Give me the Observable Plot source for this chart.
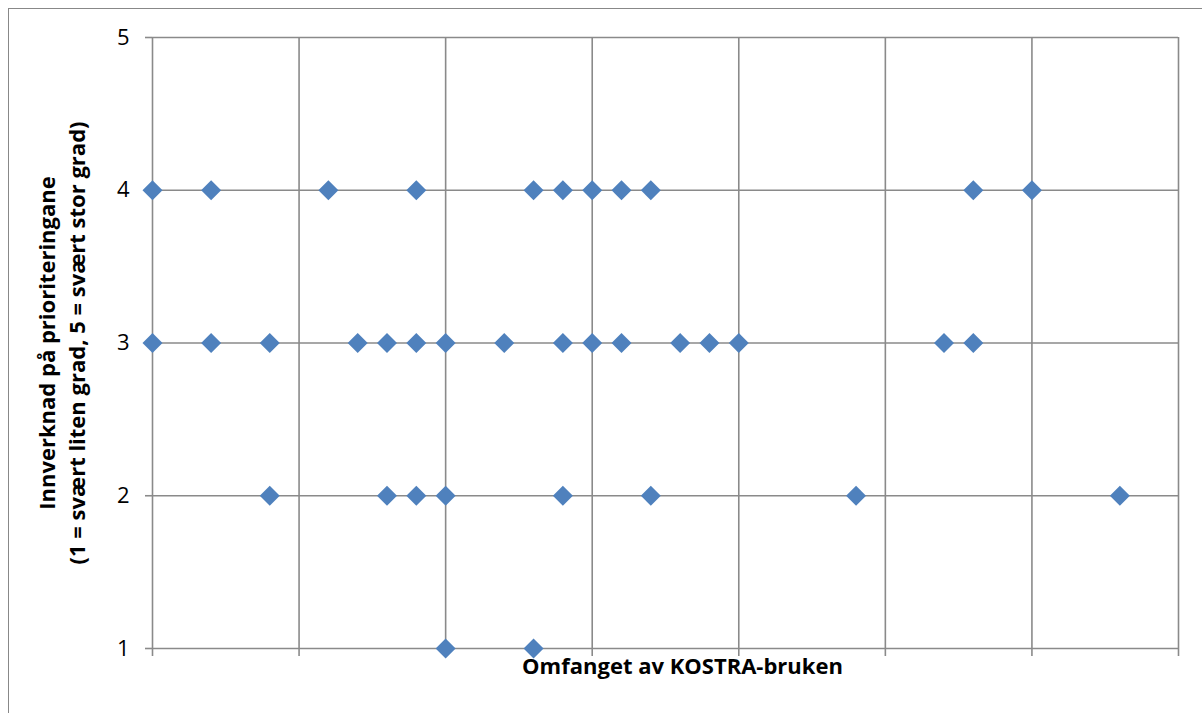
<!DOCTYPE html>
<html>
<head>
<meta charset="utf-8">
<script src="https://cdn.jsdelivr.net/npm/d3@7"></script>
<script src="https://cdn.jsdelivr.net/npm/@observablehq/plot@0.6"></script>
<style>
  html, body { margin: 0; padding: 0; background: #fff; }
  #wrap { position: relative; width: 1202px; height: 713px; overflow: hidden; }
  #border { position: absolute; left: 8px; top: 8px; width: 1300px; height: 800px; border: 1.5px solid #888; box-sizing: border-box; pointer-events: none; }
</style>
</head>
<body>
<div id="wrap"><div id="border"></div><div id="chart"></div></div>
<script>
// Points: x = omfang (0..35), y = innverknad (1..5)
const xs4 = [0, 2, 6, 9, 13, 14, 15, 16, 17, 28, 30];
const xs3 = [0, 2, 4, 7, 8, 9, 10, 12, 14, 15, 16, 18, 19, 20, 27, 28];
const xs2 = [4, 8, 9, 10, 14, 17, 24, 33];
const xs1 = [10, 13];
const xTicks = [0, 5, 10, 15, 20, 25, 30, 35];
const yTicks = [1, 2, 3, 4, 5];
const xTitle = "Omfanget av KOSTRA-bruken";
const yTitle = "Innverknad på prioriteringane\n(1 = svært liten grad, 5 = svært stor grad)";

const data = [
  ...xs4.map(x => ({x, y: 4})),
  ...xs3.map(x => ({x, y: 3})),
  ...xs2.map(x => ({x, y: 2})),
  ...xs1.map(x => ({x, y: 1}))
];

const gridColor = "#8a8a8a";
const font = "'Open Sans', 'Noto Sans', sans-serif";

const chart = Plot.plot({
  width: 1202,
  height: 713,
  marginLeft: 152,
  marginRight: 24,
  marginTop: 37,
  marginBottom: 65,
  style: {fontFamily: font, fontSize: "22px", color: "#000", background: "transparent"},
  x: {domain: [0, 35]},
  y: {domain: [1, 5]},
  marks: [
    Plot.gridX(xTicks, {stroke: gridColor, strokeOpacity: 1, strokeWidth: 1.6}),
    Plot.gridY(yTicks, {stroke: gridColor, strokeOpacity: 1, strokeWidth: 1.6}),
    Plot.axisY(yTicks, {tickSize: 7, tickPadding: 16, stroke: gridColor, strokeWidth: 1.6, tickFormat: d => String(d), fontSize: 22, fill: "#000", label: null}),
    Plot.axisX(xTicks, {tickSize: 8, stroke: gridColor, strokeWidth: 1.6, tickFormat: () => "", label: null}),
    Plot.dot(data, {x: "x", y: "y", symbol: "diamond2", r: 9, fill: "#4F81BD", stroke: "none"}),
    Plot.text([xTitle], {frameAnchor: "bottom", textAnchor: "middle", dx: 17, dy: 18, text: d => d, fontWeight: "bold", fontSize: 22, fill: "#000", lineAnchor: "middle"}),
    Plot.text([yTitle], {frameAnchor: "left", textAnchor: "middle", dx: -92, text: d => d, rotate: -90, fontWeight: "bold", fontSize: 22, fill: "#000", lineAnchor: "middle", lineHeight: 1.36})
  ]
});
document.getElementById("chart").appendChild(chart);
</script>
</body>
</html>
